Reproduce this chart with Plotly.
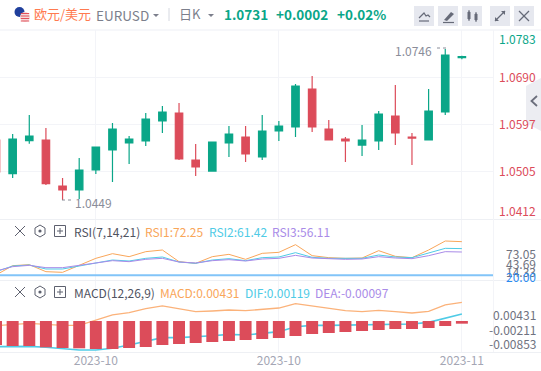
import plotly.graph_objects as go
from plotly.subplots import make_subplots

W, H = 541, 371
idx = list(range(29))
opens = [1.05669,1.05005,1.05655,1.05669,1.04763,1.04684,1.05078,1.05472,1.05610,1.05649,1.06043,1.06201,1.05275,1.05058,1.05610,1.05728,1.05334,1.05846,1.05925,1.06674,1.05886,1.05689,1.05570,1.05649,1.06142,1.05728,1.05669,1.06221,1.0729]
highs = [1.05905,1.05787,1.06162,1.05905,1.04920,1.05314,1.05540,1.06004,1.05748,1.06201,1.06339,1.06398,1.05590,1.05635,1.05945,1.05945,1.06162,1.06043,1.06772,1.06930,1.06063,1.05728,1.05965,1.06240,1.06753,1.05807,1.06674,1.0746,1.0733]
lows = [1.04960,1.04920,1.05596,1.04783,1.04487,1.04507,1.04999,1.04842,1.05196,1.05551,1.05807,1.05275,1.04960,1.05050,1.05334,1.05236,1.05275,1.05649,1.05728,1.05827,1.05669,1.05236,1.05354,1.05472,1.05570,1.05177,1.05660,1.06162,1.0726]
closes = [1.05039,1.05689,1.05748,1.04808,1.04684,1.05078,1.05531,1.05886,1.05689,1.06083,1.06221,1.05295,1.05137,1.05630,1.05787,1.05393,1.05846,1.05945,1.06733,1.05925,1.05669,1.05649,1.05669,1.06181,1.05807,1.05708,1.06240,1.07343,1.0731]
rsi1 = [20.25,34.81,36.37,25.45,24.41,34.81,46.25,53.53,48.85,56.65,59.25,41.05,38.45,48.85,52.49,44.69,54.05,55.61,67.57,50.41,47.29,46.25,46.77,58.21,49.37,47.29,59.25,73.29,72.25]
rsi2 = [25.45,34.29,35.85,29.61,29.61,34.29,40.01,43.65,42.09,46.25,48.33,40.53,38.45,43.65,45.73,42.61,47.29,48.33,55.09,47.81,46.25,45.73,46.25,51.45,48.33,47.29,54.05,61.85,61.42]
rsi3 = [26.49,33.25,35.33,31.69,31.69,34.81,38.97,42.61,41.05,44.69,46.25,40.53,38.97,42.61,44.17,42.09,45.21,46.25,50.93,46.77,45.21,44.69,45.21,48.85,46.77,45.73,50.41,56.65,56.11]
rsi_level = [20.0] * 2
macd_line = [-.00108,-.00077,-.00054,-.00077,-.00100,-.00100,.00023,.00139,.00193,.00285,.00347,.00277,.00216,.00231,.00254,.00239,.00270,.00300,.00400,.00347,.00285,.00239,.00216,.00246,.00216,.00185,.00223,.00370,.00431]
dif_line = [-.00593,-.00593,-.00585,-.00608,-.00647,-.00670,-.00670,-.00631,-.00554,-.00477,-.00385,-.00385,-.00370,-.00339,-.00308,-.00323,-.00285,-.00246,-.00131,-.00100,-.00100,-.00092,-.00092,-.00077,-.00069,-.00069,-.00031,.00069,.00162]
hist = [-.00554,-.00578,-.00578,-.00608,-.00624,-.00631,-.00647,-.00647,-.00624,-.00601,-.00554,-.00531,-.00508,-.00485,-.00462,-.00439,-.00416,-.00393,-.00347,-.00300,-.00277,-.00254,-.00231,-.00208,-.00185,-.00185,-.00162,-.00116,-.00062]
price_ticks = [1.0690, 1.0597, 1.0505]
date_ticks = [6, 17, 28]
date_labels = ["2023-10", "2023-10", "2023-11"]

GREEN, RED = "#0aa688", "#dc4c5a"
ORANGE, CYAN, PURPLE = "#f9a65a", "#4fcbe6", "#a98be8"
GRID = "#f3f4f8"
FONT = "Noto Sans CJK SC"

def px(x): return x / W
def py(y): return 1 - y / H

fig = make_subplots(rows=3, cols=1, shared_xaxes=True, vertical_spacing=0)
fig.add_trace(go.Candlestick(x=idx, open=opens, high=highs, low=lows, close=closes, whiskerwidth=0,
    increasing=dict(line=dict(color=GREEN, width=1.2), fillcolor=GREEN),
    decreasing=dict(line=dict(color=RED, width=1.2), fillcolor=RED)), row=1, col=1)
for s, c in ((rsi1, ORANGE), (rsi2, CYAN), (rsi3, PURPLE)):
    fig.add_trace(go.Scatter(x=idx, y=s, mode="lines", line=dict(color=c, width=1)), row=2, col=1)
fig.add_trace(go.Scatter(x=[0, 30], y=rsi_level, mode="lines", line=dict(color="#82c4f8", width=2)), row=2, col=1)
fig.add_trace(go.Scatter(x=idx, y=macd_line, mode="lines", line=dict(color="#fbb27a", width=1.3)), row=3, col=1)
fig.add_trace(go.Scatter(x=idx, y=dif_line, mode="lines", line=dict(color=CYAN, width=1.6)), row=3, col=1)
fig.add_trace(go.Bar(x=idx, y=hist, marker=dict(color=RED, line_width=0), width=0.72, xaxis="x3", yaxis="y4"))

XR = [0.24, 29.87]
RSI_R = [12.45, 106.05]
MACD_R = [-.00716, .00947]
xcommon = dict(range=XR, domain=[0, 493 / W], showgrid=True, gridcolor=GRID, gridwidth=1,
               tickvals=date_ticks, ticktext=date_labels, zeroline=False, showline=False, ticks="",
               rangeslider=dict(visible=False), tickfont=dict(family=FONT, size=12, color="#a4a6b4"))
fig.update_layout(
    width=W, height=H, margin=dict(l=0, r=0, t=0, b=0), autosize=False, showlegend=False, dragmode=False,
    paper_bgcolor="white", plot_bgcolor="white", boxgap=0.36, boxmode="overlay",
    xaxis=dict(xcommon, showticklabels=False),
    xaxis2=dict(xcommon, showticklabels=False),
    xaxis3=dict(xcommon, showticklabels=True),
    yaxis=dict(domain=[py(219), py(30)], range=[1.04113, 1.07836], side="right", tickvals=price_ticks,
               tickformat=".4f", showgrid=True, gridcolor=GRID, zeroline=False, ticks="", ticklabelstandoff=5,
               tickfont=dict(family=FONT, size=12, color=RED)),
    yaxis2=dict(domain=[py(280), py(220)], range=RSI_R, side="right", showgrid=False, zeroline=False, showticklabels=False),
    yaxis3=dict(domain=[py(352), py(280)], range=MACD_R, side="right", showgrid=False, zeroline=False, showticklabels=False),
    yaxis4=dict(overlaying="y3", anchor="x3", range=MACD_R, side="right", showgrid=False, zeroline=False, showticklabels=False),
)

shapes, anns = [], []
def txt(x, y, s, color, size=12, anchor="left", bold=False):
    anns.append(dict(xref="paper", yref="paper", x=px(x), y=py(y), text=f"<b>{s}</b>" if bold else s, showarrow=False,
                     xanchor=anchor, yanchor="middle", font=dict(family=FONT, size=size, color=color),
                     borderpad=0, borderwidth=0))
def line(x0, y0, x1, y1, color, w=1, dash="solid"):
    shapes.append(dict(type="line", xref="paper", yref="paper", x0=px(x0), y0=py(y0), x1=px(x1), y1=py(y1),
                       line=dict(color=color, width=w, dash=dash), layer="above"))
def rect(x0, y0, x1, y1, fill, lc=None, w=1):
    shapes.append(dict(type="rect", xref="paper", yref="paper", x0=px(x0), y0=py(y0), x1=px(x1), y1=py(y1),
                       fillcolor=fill, line=dict(color=lc or fill, width=w), layer="above"))
def path(points, fill=None, lc=None, w=1, close=False, layer="above"):
    d = "M" + " L".join(f"{px(a):.5f},{py(b):.5f}" for a, b in points) + (" Z" if close else "")
    shapes.append(dict(type="path", xref="paper", yref="paper", path=d, fillcolor=fill or "rgba(0,0,0,0)",
                       line=dict(color=lc or "rgba(0,0,0,0)", width=w), layer=layer))
def circle(cx, cy, r, fill):
    shapes.append(dict(type="circle", xref="paper", yref="paper", x0=px(cx - r), y0=py(cy - r), x1=px(cx + r), y1=py(cy + r),
                       fillcolor=fill, line=dict(color=fill, width=0), layer="above"))

# panel frames
line(0, 30, 541, 30, "#f3f4f8", 1.5)
line(0, 219.5, 541, 219.5, "#eef0f4", 1)
line(0, 280.5, 541, 280.5, "#eef0f4", 1)
line(0, 352.5, 541, 352.5, "#eef0f4", 1)
line(493.5, 30, 493.5, 352, "#f3f4f8", 1)

# header
circle(19.5, 12, 5, "#1f3f9c")
circle(25, 17, 5, "#f4d9d9")
for yy in (13.5, 16, 18.5, 21):
    line(20.8, yy, 29.2, yy, "#e2505a", 1)
txt(34, 14, "欧元/美元", "#ff7a50", 13)
txt(96, 15, "EURUSD", "#7c7f8c", 13.5)
path([(153, 14), (159, 14), (156, 17)], fill="#7c7f8c", close=True)
line(169, 8, 169, 21, "#d5d8e0", 1)
txt(179, 14, "日K", "#7c7f8c", 13)
path([(208, 14), (214, 14), (211, 17)], fill="#7c7f8c", close=True)
txt(224, 14, "1.0731", GREEN, 13.5, bold=True)
txt(276, 14, "+0.0002", GREEN, 13.5, bold=True)
txt(337, 14, "+0.02%", GREEN, 13.5, bold=True)
for x0 in (414, 438, 462, 490, 514):
    rect(x0, 6, x0 + 20, 26, "#e6e8ef", w=0)
ic = "#666a78"
path([(419, 18), (422, 15), (424, 13), (426, 16), (428, 15), (430, 17)], lc=ic, w=1.2)
line(419, 21, 429, 21, ic, 1.2)
path([(444, 20), (451, 12), (454, 14), (447, 21)], fill=ic, close=True)
line(443, 22.5, 454, 22.5, ic, 1.2)
rect(468, 12, 470, 19, ic); line(469, 10, 469, 21, ic, 1)
rect(475, 14, 477, 20, ic); line(476, 12, 476, 22, ic, 1)
line(495, 21, 505, 11, ic, 1.2)
path([(501, 11), (505, 11), (505, 15)], fill=ic, close=True)
path([(495, 17), (495, 21), (499, 21)], fill=ic, close=True)
line(519, 11, 529, 21, ic, 1.2)
line(529, 11, 519, 21, ic, 1.2)

# collapse tab
path([(541, 78), (526, 86), (526, 123), (541, 131)], fill="#ecedf2", close=True, layer="below")
path([(537, 96), (531.5, 101), (537, 106)], lc="#6b6e7c", w=1.8)

# price labels clamped to the pane
txt(536, 38, "1.0783", GREEN, 12, "right")
txt(536, 210, "1.0412", RED, 12, "right")

# extreme labels
txt(395, 50, "1.0746", "#8a8d99", 12)
line(437, 48, 446, 48, "#8a8d99", 1, "dot")
txt(75, 202, "1.0449", "#8a8d99", 12)
line(62, 200, 72, 200, "#8a8d99", 1, "dot")

# pane legends
def icons(y):
    line(15, y - 5, 25, y + 5, "#5d606e", 1)
    line(25, y - 5, 15, y + 5, "#5d606e", 1)
    path([(40, y - 6), (45, y - 3), (45, y + 3), (40, y + 6), (35, y + 3), (35, y - 3)], lc="#5d606e", close=True)
    circle(40, y, 1.6, "#5d606e")
    rect(54.5, y - 5.5, 65.5, y + 5.5, "rgba(0,0,0,0)", "#5d606e")
    line(57, y, 63, y, "#5d606e")
    line(60, y - 3, 60, y + 3, "#5d606e")
icons(231)
icons(292)
txt(74, 231, "RSI(7,14,21)", "#50535f", 12)
txt(145, 231, "RSI1:72.25", ORANGE, 12)
txt(209, 231, "RSI2:61.42", CYAN, 12)
txt(272, 231, "RSI3:56.11", PURPLE, 12)
txt(74, 292, "MACD(12,26,9)", "#50535f", 12)
txt(160, 292, "MACD:0.00431", ORANGE, 12)
txt(245, 292, "DIF:0.00119", CYAN, 12)
txt(315, 292, "DEA:-0.00097", PURPLE, 12)

# indicator axis labels
for y, s, c in ((253, "73.05", "#6f7280"), (263, "43.69", "#6f7280"), (271, "14.33", "#6f7280"), (276, "20.00", "#2a8af0")):
    txt(536, y, s, c, 12, "right")
for y, s in ((314.5, "0.00431"), (329, "-0.00211"), (343, "-0.00853")):
    txt(536, y, s, "#6f7280", 12, "right")

fig.update_layout(shapes=shapes, annotations=anns)
fig.write_html("out.html", config=dict(displayModeBar=False),
               post_script="document.body.style.margin='0';document.body.style.overflow='hidden';")
